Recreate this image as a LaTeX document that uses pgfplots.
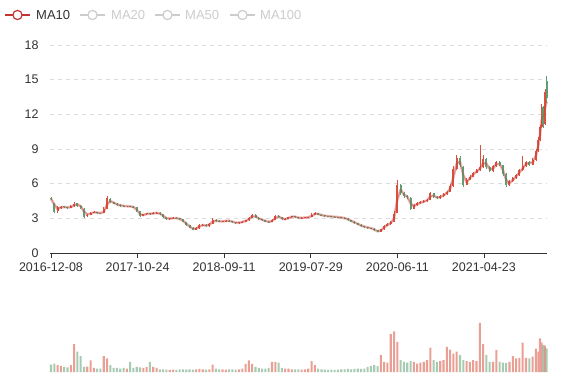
\documentclass[border=0pt]{standalone}
\usepackage{pgfplots}
\usepackage{pgfplotstable}
\pgfplotsset{compat=1.18}
\usepackage{fontspec}
\setmainfont{Liberation Sans}
\definecolor{upc}{HTML}{D9503E}
\definecolor{dnc}{HTML}{5E9E72}
\definecolor{ma}{HTML}{C23531}
\definecolor{txt}{HTML}{333333}
\definecolor{off}{HTML}{CCCCCC}
\pgfplotstableread{
x o c l h v m
0 4.80 4.65 4.55 4.85 22 4.70
8 4.30 3.55 3.45 4.35 25 4.20
16 3.60 3.95 3.50 4.05 20 3.80
24 3.90 4.02 3.85 4.10 18 3.95
32 4.05 3.95 3.90 4.10 15 3.98
40 3.95 3.92 3.85 4.00 14 3.95
48 3.90 4.05 3.88 4.12 20 3.97
56 4.05 4.28 4.00 4.40 82 4.12
64 4.30 4.08 4.00 4.35 60 4.20
72 4.10 3.90 3.85 4.15 47 4.05
80 3.85 3.15 3.05 3.90 15 3.60
88 3.20 3.30 3.10 3.40 16 3.35
96 3.30 3.50 3.25 3.58 34 3.40
104 3.50 3.55 3.45 3.62 12 3.52
112 3.55 3.45 3.40 3.58 10 3.50
120 3.45 3.43 3.38 3.50 10 3.45
128 3.45 3.80 3.42 3.95 47 3.55
136 3.85 4.75 3.80 4.90 40 4.20
144 4.70 4.40 4.30 4.75 20 4.50
152 4.40 4.25 4.20 4.45 12 4.35
160 4.25 4.15 4.10 4.30 12 4.22
168 4.15 4.08 4.02 4.20 10 4.12
176 4.08 4.05 4.00 4.12 12 4.07
184 4.05 4.05 4.00 4.10 10 4.05
192 4.05 4.02 3.98 4.08 30 4.04
200 4.00 3.95 3.90 4.05 12 3.98
208 3.95 3.60 3.55 3.98 15 3.75
216 3.60 3.22 3.15 3.65 14 3.35
224 3.22 3.35 3.18 3.40 12 3.28
232 3.35 3.43 3.30 3.50 15 3.38
240 3.43 3.38 3.32 3.48 30 3.40
248 3.38 3.45 3.35 3.52 15 3.42
256 3.45 3.50 3.40 3.58 12 3.47
264 3.50 3.35 3.30 3.55 8 3.42
272 3.35 3.10 3.05 3.38 8 3.22
280 3.10 2.92 2.88 3.12 7 3.00
288 2.92 3.00 2.88 3.05 6 2.98
296 3.00 3.05 2.95 3.10 7 3.02
304 3.05 3.00 2.95 3.08 6 3.02
312 3.00 2.90 2.85 3.03 8 2.95
320 2.90 2.70 2.65 2.92 8 2.80
328 2.70 2.40 2.35 2.72 7 2.55
336 2.40 2.20 2.15 2.42 8 2.30
344 2.20 2.02 1.97 2.22 7 2.10
352 2.02 2.15 2.00 2.25 8 2.10
360 2.15 2.40 2.12 2.48 9 2.28
368 2.40 2.45 2.35 2.55 8 2.42
376 2.45 2.30 2.25 2.48 7 2.38
384 2.30 2.55 2.28 2.62 8 2.45
392 2.55 2.85 2.50 3.00 22 2.70
400 2.85 2.78 2.72 2.90 10 2.80
408 2.78 2.72 2.68 2.82 8 2.75
416 2.72 2.75 2.68 2.80 8 2.74
424 2.75 2.80 2.72 2.85 7 2.78
432 2.80 2.78 2.72 2.84 8 2.79
440 2.78 2.65 2.60 2.80 8 2.72
448 2.65 2.58 2.52 2.68 7 2.62
456 2.58 2.65 2.55 2.70 8 2.62
464 2.65 2.72 2.62 2.78 10 2.68
472 2.72 2.82 2.70 2.88 24 2.77
480 2.82 3.05 2.80 3.12 34 2.93
488 3.05 3.32 3.02 3.40 24 3.18
496 3.32 3.05 3.00 3.35 15 3.18
504 3.05 2.92 2.88 3.08 12 2.98
512 2.92 2.85 2.80 2.95 10 2.88
520 2.85 2.72 2.68 2.88 10 2.78
528 2.72 2.68 2.62 2.75 12 2.70
536 2.68 2.85 2.65 2.92 30 2.76
544 2.85 3.20 2.82 3.28 30 3.02
552 3.20 3.10 3.05 3.25 28 3.15
560 3.10 2.90 2.85 3.12 12 3.00
568 2.90 2.95 2.85 3.00 10 2.92
576 2.95 3.10 2.92 3.15 10 3.02
584 3.10 3.18 3.05 3.22 8 3.14
592 3.18 3.10 3.05 3.20 8 3.14
600 3.10 3.02 2.98 3.12 8 3.06
608 3.02 3.05 2.98 3.08 7 3.04
616 3.05 3.08 3.02 3.12 8 3.06
624 3.08 3.10 3.05 3.15 10 3.09
632 3.10 3.30 3.08 3.50 32 3.20
640 3.30 3.45 3.28 3.52 20 3.38
648 3.45 3.32 3.28 3.48 10 3.38
656 3.32 3.25 3.20 3.35 8 3.28
664 3.25 3.20 3.15 3.28 7 3.22
672 3.20 3.18 3.14 3.22 6 3.19
680 3.18 3.15 3.10 3.20 7 3.16
688 3.15 3.12 3.08 3.18 6 3.13
696 3.12 3.10 3.05 3.15 7 3.11
704 3.10 3.05 3.00 3.12 8 3.07
712 3.05 2.98 2.92 3.08 8 3.02
720 2.98 2.85 2.80 3.00 9 2.92
728 2.85 2.72 2.68 2.88 8 2.79
736 2.72 2.60 2.55 2.75 9 2.66
744 2.60 2.45 2.40 2.62 10 2.52
752 2.45 2.30 2.25 2.48 9 2.38
760 2.30 2.25 2.18 2.35 10 2.28
768 2.25 2.18 2.12 2.28 15 2.21
776 2.18 2.12 2.05 2.20 18 2.15
784 2.12 1.95 1.90 2.15 20 2.04
792 1.95 1.82 1.78 1.98 17 1.88
800 1.82 2.05 1.80 2.12 50 1.94
808 2.05 2.35 2.02 2.42 30 2.20
816 2.35 2.50 2.30 2.58 28 2.42
824 2.50 2.70 2.45 2.78 112 2.60
832 2.70 3.40 2.68 3.60 120 3.00
840 3.50 5.90 3.45 6.30 89 4.60
848 5.90 5.20 5.05 6.00 35 5.50
856 5.20 4.90 4.75 5.30 30 5.05
864 4.90 4.85 4.70 5.05 28 4.88
872 4.80 3.85 3.75 4.85 32 4.30
880 3.85 4.15 3.80 4.25 30 4.05
888 4.15 4.30 4.10 4.40 25 4.22
896 4.30 4.40 4.25 4.50 28 4.35
904 4.40 4.50 4.35 4.60 30 4.45
912 4.50 4.60 4.42 4.70 35 4.55
920 4.60 5.15 4.55 5.30 72 4.88
928 5.15 4.85 4.75 5.20 35 4.98
936 4.85 4.75 4.68 4.90 30 4.80
944 4.75 4.90 4.70 4.98 32 4.82
952 4.90 5.10 4.85 5.20 35 5.00
960 5.10 5.30 5.05 5.40 74 5.20
968 5.30 5.80 5.25 5.95 66 5.55
976 5.80 7.30 5.75 7.50 54 6.55
984 7.30 8.20 7.20 8.50 60 7.75
992 8.20 7.60 7.40 8.40 50 7.90
1000 7.40 5.90 5.75 7.50 35 6.75
1008 5.90 6.35 5.85 6.50 32 6.12
1016 6.35 6.60 6.30 6.75 30 6.48
1024 6.60 6.95 6.55 7.05 35 6.78
1032 6.95 7.15 6.90 7.30 32 7.05
1040 7.15 7.40 7.10 9.35 145 7.28
1048 7.40 8.10 7.35 8.50 82 7.75
1056 8.10 7.40 7.30 8.20 50 7.75
1064 7.40 7.10 7.00 7.50 30 7.25
1072 7.10 7.50 7.05 7.65 30 7.30
1080 7.50 7.85 7.45 8.00 65 7.68
1088 7.85 7.60 7.50 7.95 30 7.72
1096 7.60 6.80 6.70 7.65 28 7.20
1104 6.80 5.85 5.75 6.90 27 6.32
1112 5.85 6.20 5.80 6.30 30 6.02
1120 6.20 6.45 6.15 6.55 47 6.32
1128 6.45 6.75 6.40 6.85 40 6.60
1136 6.75 7.15 6.70 7.25 42 6.95
1144 7.15 7.50 7.10 8.40 87 7.32
1152 7.50 7.90 7.45 8.00 42 7.70
1160 7.90 7.65 7.55 7.95 40 7.78
1168 7.65 8.05 7.60 8.20 45 7.85
1176 8.05 8.80 8.00 9.00 69 8.42
1182 8.80 9.80 8.70 10.00 60 9.30
1186 9.80 10.90 9.70 11.10 99 10.20
1190 10.90 12.60 10.80 12.90 87 11.50
1194 12.60 11.20 10.80 12.70 80 11.90
1198 11.20 13.90 11.10 14.20 78 12.50
1202 14.90 13.40 13.00 15.30 70 13.10
}\data

\begin{document}
\begin{tikzpicture}[x=1pt,y=1pt]
\useasboundingbox (0,0) rectangle (577,380);
% legend
\draw[ma, line width=1.4pt] (5,365) -- (30,365);
\draw[ma, line width=1.2pt, fill=white] (17.5,365) circle (4.6);
\node[anchor=west, inner sep=0pt, text=txt, font=\fontsize{13}{15}\selectfont] at (36,365) {MA10};
\draw[off, line width=1.4pt] (80,365) -- (105,365);
\draw[off, line width=1.2pt, fill=white] (92.5,365) circle (4.6);
\node[anchor=west, inner sep=0pt, text=off, font=\fontsize{13}{15}\selectfont] at (111,365) {MA20};
\draw[off, line width=1.4pt] (155,365) -- (180,365);
\draw[off, line width=1.2pt, fill=white] (167.5,365) circle (4.6);
\node[anchor=west, inner sep=0pt, text=off, font=\fontsize{13}{15}\selectfont] at (185,365) {MA50};
\draw[off, line width=1.4pt] (230,365) -- (255,365);
\draw[off, line width=1.2pt, fill=white] (242.5,365) circle (4.6);
\node[anchor=west, inner sep=0pt, text=off, font=\fontsize{13}{15}\selectfont] at (260,365) {MA100};

\begin{axis}[
  at={(50pt,127pt)}, anchor=south west,
  scale only axis, width=497pt, height=208pt,
  xmin=-2.4, xmax=1203, ymin=0, ymax=18,
  clip=false,
  axis x line=bottom, axis y line=left,
  y axis line style={draw=none},
  x axis line style={-, draw=txt, line width=0.8pt},
  xtick={0,210,420,630,840,1050},
  xticklabels={2016-12-08,2017-10-24,2018-09-11,2019-07-29,2020-06-11,2021-04-23},
  ytick={0,3,6,9,12,15,18},
  tick align=outside,
  major tick length=5pt,
  xtick style={draw=txt, line width=0.8pt},
  ytick style={draw=none},
  ymajorgrids,
  major grid style={draw=black!14, dash pattern=on 4pt off 4pt, line width=0.7pt},
  /pgf/number format/assume math mode=true,
  ticklabel style={font=\fontsize{12.5}{14}\selectfont, text=txt},
  yticklabel style={xshift=-3pt},
  xticklabel style={yshift=-1pt},
]
% MA10 (under the candles)
\addplot[ma, opacity=0.35, line width=2.6pt, mark=none, line join=round] table[x=x, y=m] {\data};
% wicks up
\addplot[draw=none, mark=none, forget plot, error bars/.cd, y dir=plus, y explicit, error mark=none,
  error bar style={line width=0.6pt, draw=upc}]
  table[x=x, y expr={\thisrow{c}>=\thisrow{o} ? \thisrow{l} : nan}, y error plus expr={\thisrow{h}-\thisrow{l}}] {\data};
% bodies up
\addplot[draw=none, mark=none, forget plot, error bars/.cd, y dir=plus, y explicit, error mark=none,
  error bar style={line width=2pt, draw=upc}]
  table[x=x, y expr={\thisrow{c}>=\thisrow{o} ? \thisrow{o} : nan}, y error plus expr={\thisrow{c}-\thisrow{o}}] {\data};
% wicks down
\addplot[draw=none, mark=none, forget plot, error bars/.cd, y dir=plus, y explicit, error mark=none,
  error bar style={line width=0.6pt, draw=dnc}]
  table[x=x, y expr={\thisrow{c}<\thisrow{o} ? \thisrow{l} : nan}, y error plus expr={\thisrow{h}-\thisrow{l}}] {\data};
% bodies down
\addplot[draw=none, mark=none, forget plot, error bars/.cd, y dir=plus, y explicit, error mark=none,
  error bar style={line width=2pt, draw=dnc}]
  table[x=x, y expr={\thisrow{c}<\thisrow{o} ? \thisrow{c} : nan}, y error plus expr={\thisrow{o}-\thisrow{c}}] {\data};
% MA10 (thin on top)
\addplot[ma, opacity=0.35, line width=1pt, mark=none, line join=round, forget plot] table[x=x, y=m] {\data};
\end{axis}

\begin{axis}[
  at={(50pt,8pt)}, anchor=south west,
  scale only axis, width=497pt, height=60pt,
  xmin=-2.4, xmax=1203, ymin=0, ymax=177,
  hide axis, clip=false,
]
\addplot[ybar, bar width=5, bar shift=0pt, fill=upc, fill opacity=0.55, draw=none]
  table[x=x, y expr={\thisrow{c}>=\thisrow{o} ? \thisrow{v} : nan}] {\data};
\addplot[ybar, bar width=5, bar shift=0pt, fill=dnc, fill opacity=0.55, draw=none]
  table[x=x, y expr={\thisrow{c}<\thisrow{o} ? \thisrow{v} : nan}] {\data};
\end{axis}
\end{tikzpicture}
\end{document}
